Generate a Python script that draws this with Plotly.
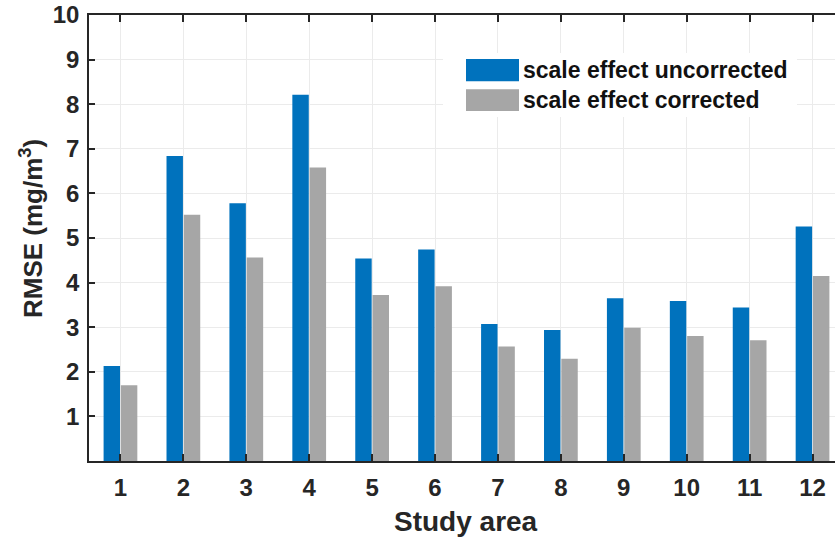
import plotly.graph_objects as go

# RMSE per study area, before and after scale-effect correction
areas = list(range(1, 13))
area_labels = [str(a) for a in areas]
rmse_uncorrected = [2.13, 6.84, 5.78, 8.21, 4.54, 4.74, 3.07, 2.94, 3.65, 3.59, 3.44, 5.26]
rmse_corrected = [1.70, 5.52, 4.56, 6.58, 3.72, 3.92, 2.57, 2.29, 2.99, 2.80, 2.71, 4.15]
series_names = ["scale effect uncorrected", "scale effect corrected"]
series_colors = ["#0072BD", "#A6A6A6"]
y_ticks = list(range(1, 11))

W, H = 835, 540
ML, MR, MT, MB = 89, 0, 15, 79
FONT = "Liberation Sans, Arial, sans-serif"
AX = "#262626"

fig = go.Figure()
for name, vals, col in zip(series_names, [rmse_uncorrected, rmse_corrected], series_colors):
    fig.add_trace(go.Bar(
        x=areas, y=vals, name=name,
        marker=dict(color=col, line=dict(width=0)),
        showlegend=False,
    ))

fig.update_layout(
    width=W, height=H,
    margin=dict(l=ML, r=MR, t=MT, b=MB, pad=0),
    paper_bgcolor="white", plot_bgcolor="white",
    barmode="group", bargap=0.45, bargroupgap=0.05,
    font=dict(family=FONT, color=AX, size=24, weight="bold"),
)

fig.update_xaxes(
    range=[0.5, 12.5 - 9 / 62.9],
    tickvals=areas, ticktext=area_labels,
    ticks="inside", ticklen=7, tickwidth=1.5, tickcolor=AX,
    showline=True, linecolor=AX, linewidth=1.5, mirror="ticks",
    showgrid=True, gridcolor="#EBEBEB", gridwidth=1,
    zeroline=False,
    tickfont=dict(size=24, family=FONT, color=AX, weight="bold"),
    ticklabelstandoff=4,
)

fig.update_yaxes(
    range=[0, 10],
    tickvals=y_ticks,
    ticks="inside", ticklen=6, tickwidth=1.5, tickcolor=AX,
    showline=True, linecolor=AX, linewidth=1.5, mirror=False,
    showgrid=True, gridcolor="#EBEBEB", gridwidth=1,
    zeroline=False,
    tickfont=dict(size=24, family=FONT, color=AX, weight="bold"),
    ticklabelstandoff=3,
)

pw = W - ML - MR
ph = H - MT - MB
px = lambda v: (v - ML) / pw
py = lambda v: (H - MB - v) / ph

# Axis titles
fig.add_annotation(xref="paper", yref="paper", x=px(466), y=py(521),
                   xanchor="center", yanchor="middle", showarrow=False,
                   text="Study area",
                   font=dict(size=28, family=FONT, color=AX, weight="bold"))
fig.add_annotation(xref="paper", yref="paper", x=px(31), y=py(229),
                   xanchor="center", yanchor="middle", showarrow=False,
                   textangle=-90, text="RMSE (mg/m<sup>3</sup>)",
                   font=dict(size=26, family=FONT, color=AX, weight="bold"))

# Legend drawn in paper coordinates: white panel, wide swatches and labels
fig.add_shape(type="rect", xref="paper", yref="paper",
              x0=px(443), x1=px(797), y0=py(117), y1=py(53),
              fillcolor="white", line=dict(width=0), layer="above")
rows = [(59, 81.3), (89.3, 111)]
for (top, bot), name, col in zip(rows, series_names, series_colors):
    fig.add_shape(type="rect", xref="paper", yref="paper",
                  x0=px(466), x1=px(519), y0=py(bot), y1=py(top),
                  fillcolor=col, line=dict(width=0), layer="above")
    fig.add_annotation(xref="paper", yref="paper",
                       x=px(521), y=py((top + bot) / 2),
                       xanchor="left", yanchor="middle", showarrow=False,
                       text=name,
                       font=dict(size=23, family=FONT, color="#111111", weight="bold"))

fig.write_html("out.html")
